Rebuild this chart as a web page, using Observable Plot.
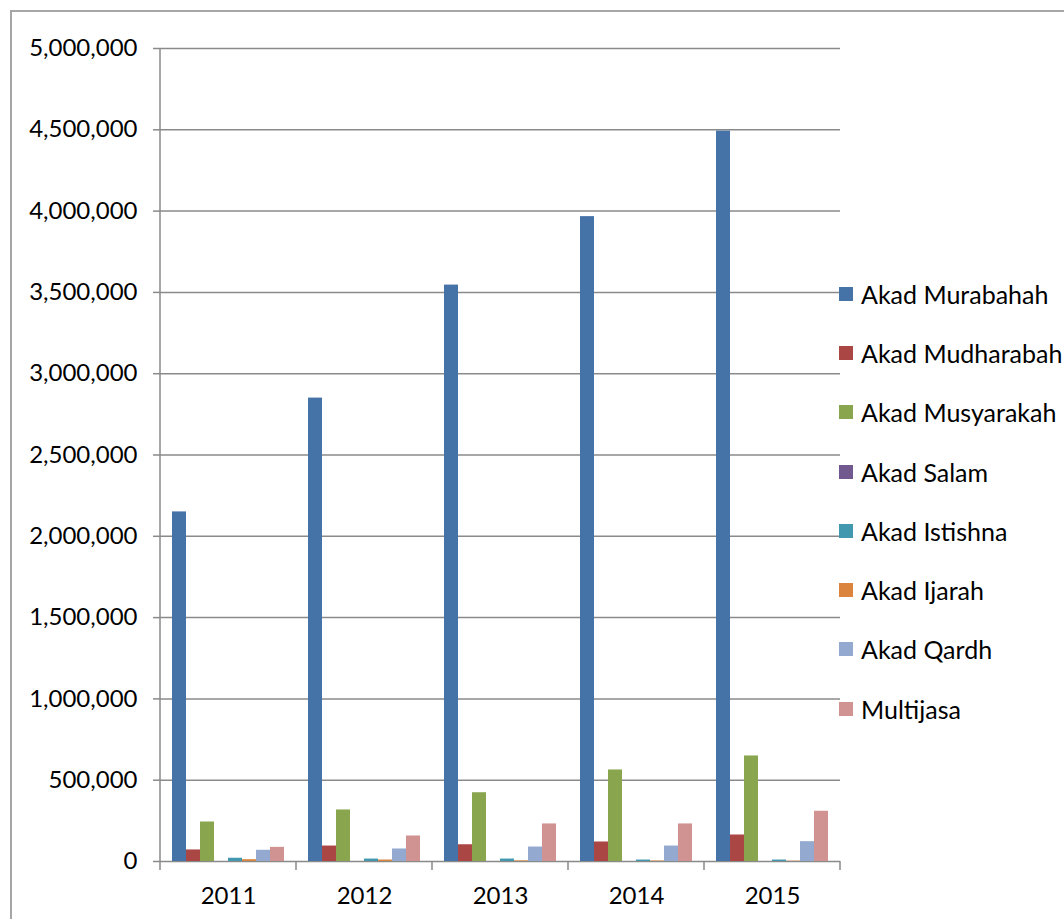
<!DOCTYPE html>
<html>
<head>
<meta charset="utf-8">
<script src="https://cdn.jsdelivr.net/npm/d3@7"></script>
<script src="https://cdn.jsdelivr.net/npm/@observablehq/plot@0.6"></script>
<style>
  body { margin: 0; background: #fff; }
  #wrap { position: relative; width: 1064px; height: 919px; overflow: hidden; font-family: Lato, sans-serif; }
  #frame { position: absolute; left: 10px; top: 10px; width: 1200px; height: 1200px;
           border-left: 2px solid #a6a6a6; border-top: 2px solid #a6a6a6; pointer-events: none; }
  #chart { position: absolute; left: 0; top: 0; }
  #legend { position: absolute; left: 839px; top: 264px; }
  .row { display: flex; align-items: center; height: 59.3px; white-space: nowrap; font-size: 25px; color: #000; }
  .sw { width: 14px; height: 14px; margin-right: 8px; flex: none; }
</style>
</head>
<body>
<div id="wrap">
  <div id="frame"></div>
  <div id="chart"></div>
  <div id="legend"></div>
</div>
<script>
// Financing by contract type, per year
const years = ["2011", "2012", "2013", "2014", "2015"];
const series = ["Akad Murabahah", "Akad Mudharabah", "Akad Musyarakah", "Akad Salam",
                "Akad Istishna", "Akad Ijarah", "Akad Qardh", "Multijasa"];
const colors = ["#4572A7", "#AA4643", "#89A54E", "#71588F", "#4198AF", "#DB843D", "#93A9CF", "#D19392"];

const murabahah  = [2150000, 2850000, 3545000, 3966000, 4492000];
const mudharabah = [71000, 95000, 103000, 120000, 163000];
const musyarakah = [243000, 317000, 423000, 563000, 649000];
const salam      = [0, 0, 0, 0, 0];
const istishna   = [20000, 15000, 15000, 9000, 9000];
const ijarah     = [11000, 9000, 4000, 3000, 2000];
const qardh      = [69000, 77000, 89000, 95000, 122000];
const multijasa  = [87000, 157000, 231000, 231000, 309000];

const yTicks = [0, 500000, 1000000, 1500000, 2000000, 2500000, 3000000, 3500000, 4000000, 4500000, 5000000];

const valuesBySeries = [murabahah, mudharabah, musyarakah, salam, istishna, ijarah, qardh, multijasa];
const data = years.flatMap((year, i) =>
  series.map((s, j) => ({year, series: s, value: valuesBySeries[j][i]}))
);

const chart = Plot.plot({
  width: 1064,
  height: 919,
  marginLeft: 160,
  marginRight: 224,
  marginTop: 48,
  marginBottom: 58,
  style: {fontFamily: "Lato, sans-serif", fontSize: "24px", color: "#000", background: "transparent"},
  fx: {domain: years, padding: 0, label: null},
  x: {domain: series, paddingInner: 0, paddingOuter: 0.8, axis: null},
  y: {domain: [0, 5000000], label: null, axis: null},
  color: {domain: series, range: colors},
  marks: [
    Plot.ruleY(yTicks, {stroke: "#8a8a8a", strokeWidth: 1.5}),
    Plot.axisY({ticks: yTicks, tickFormat: d3.format(","), tickSize: 7, tickPadding: 16,
                stroke: "#8a8a8a", strokeWidth: 1.5, fill: "#000", label: null, fontSize: 24}),
    Plot.axisFx({anchor: "bottom", tickSize: 0, tickPadding: 25, label: null, fill: "#000", fontSize: 24}),
    Plot.barY(data, {fx: "year", x: "series", y: "value", fill: "series"})
  ]
});

document.getElementById("chart").appendChild(chart);

// Vertical axis line and category boundary ticks, placed with the chart's scales
const fx = chart.scale("fx");
const y = chart.scale("y");
const edges = years.map(yr => fx.apply(yr)).concat([fx.apply(years[years.length - 1]) + fx.bandwidth]);
const svg = d3.select(chart);
const g = svg.append("g").attr("stroke", "#8a8a8a").attr("stroke-width", 1.5);
g.append("line")
  .attr("x1", edges[0]).attr("x2", edges[0])
  .attr("y1", y.apply(5000000)).attr("y2", y.apply(0));
g.selectAll(".edge").data(edges).join("line")
  .attr("x1", d => d).attr("x2", d => d)
  .attr("y1", y.apply(0)).attr("y2", y.apply(0) + 9);

// Legend
const color = chart.scale("color");
const legend = d3.select("#legend");
const rows = legend.selectAll(".row").data(series).join("div").attr("class", "row");
rows.append("div").attr("class", "sw").style("background", d => color.apply(d));
rows.append("span").text(d => d);
</script>
</body>
</html>
